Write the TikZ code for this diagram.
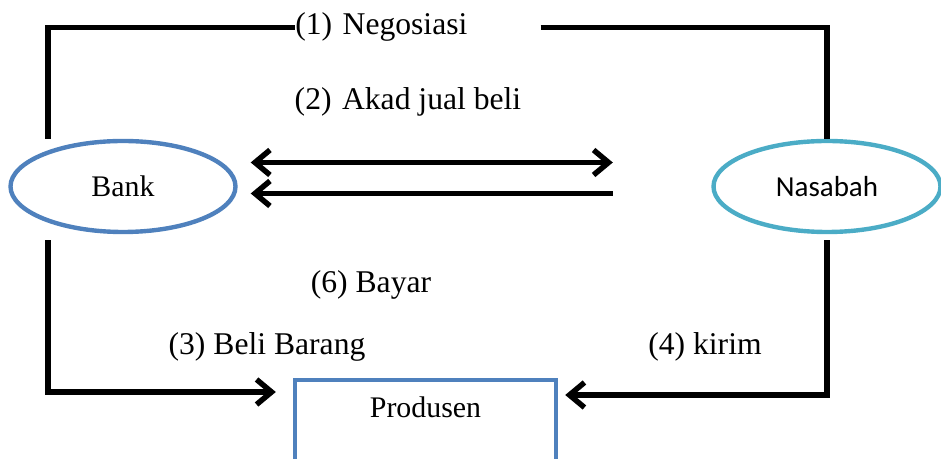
\documentclass[tikz,border=0pt]{standalone}
\usepackage{fontspec}
\setmainfont{Liberation Serif}
\newfontfamily\calibri{Carlito}
\usetikzlibrary{positioning}
\usetikzlibrary{shapes}
\usetikzlibrary{arrows.meta}
\definecolor{bank-blue}{HTML}{4F81BD}
\definecolor{client-aqua}{HTML}{4BACC6}

\begin{document}
\begin{tikzpicture}[
  >={Straight Barb[length=.3cm, width=.5cm]},
  party/.style={draw, ellipse, line width=2.5pt, minimum width=4.5cm, minimum height=1.82cm, font=\fontsize{17}{20}\selectfont},
  maker/.style={draw=bank-blue, line width=2.5pt, minimum width=5.22cm, inner ysep=.25cm, text height=.5cm, text depth=1.6cm, font=\fontsize{17}{20}\selectfont},
  flowtext/.style={inner sep=0pt, font=\fontsize{18}{21}\selectfont},
  flow/.style={line width=3.1pt}
]
\useasboundingbox (0,0) rectangle (18.82,9.18);

% Parties
\node[party, draw=bank-blue] (bank) at (2.46, 5.45) {Bank};
\node[party, draw=client-aqua, minimum width=4.54cm, font=\calibri\fontsize{16.5}{20}\selectfont] (nasabah) at (16.54, 5.45) {Nasabah};
\node[maker, anchor=north] (produsen) at (8.51, 1.62) {Produsen};

% Labels
\node[flowtext, anchor=base west, text width=4.9cm, align=left] (negos) at (5.9, 8.48) {(1)\hspace{.33em}Negosiasi};
\node[flowtext, anchor=base] (akad) at (8.16, 6.98) {(2)\hspace{.33em}Akad jual beli};
\node[flowtext, anchor=base] (bayar) at (7.42, 3.32) {(6) Bayar};
\node[flowtext, anchor=base] (beli) at (5.34, 2.08) {(3) Beli Barang};
\node[flowtext, anchor=base] (kirim) at (14.1, 2.08) {(4) kirim};

% Negosiasi
\draw[flow] ([xshift=-1.5cm]bank.north) |- (negos.west);
\draw[flow] (negos.east) -| (nasabah.north);

% Akad jual beli
\draw[flow, <->] ([xshift=.26cm, yshift=.48cm]bank.east) -- ([xshift=-1.97cm, yshift=.48cm]nasabah.west);
\draw[flow, <-] ([xshift=.26cm, yshift=-.14cm]bank.east) -- ([xshift=-1.97cm, yshift=-.14cm]nasabah.west);

% Beli barang and kirim
\draw[flow, ->] ([xshift=-1.5cm, yshift=-.12cm]bank.south) |- ([xshift=-.34cm, yshift=-.28cm]produsen.north west);
\draw[flow, ->] ([yshift=-.12cm]nasabah.south) |- ([xshift=.14cm, yshift=-.34cm]produsen.north east);
\end{tikzpicture}
\end{document}
